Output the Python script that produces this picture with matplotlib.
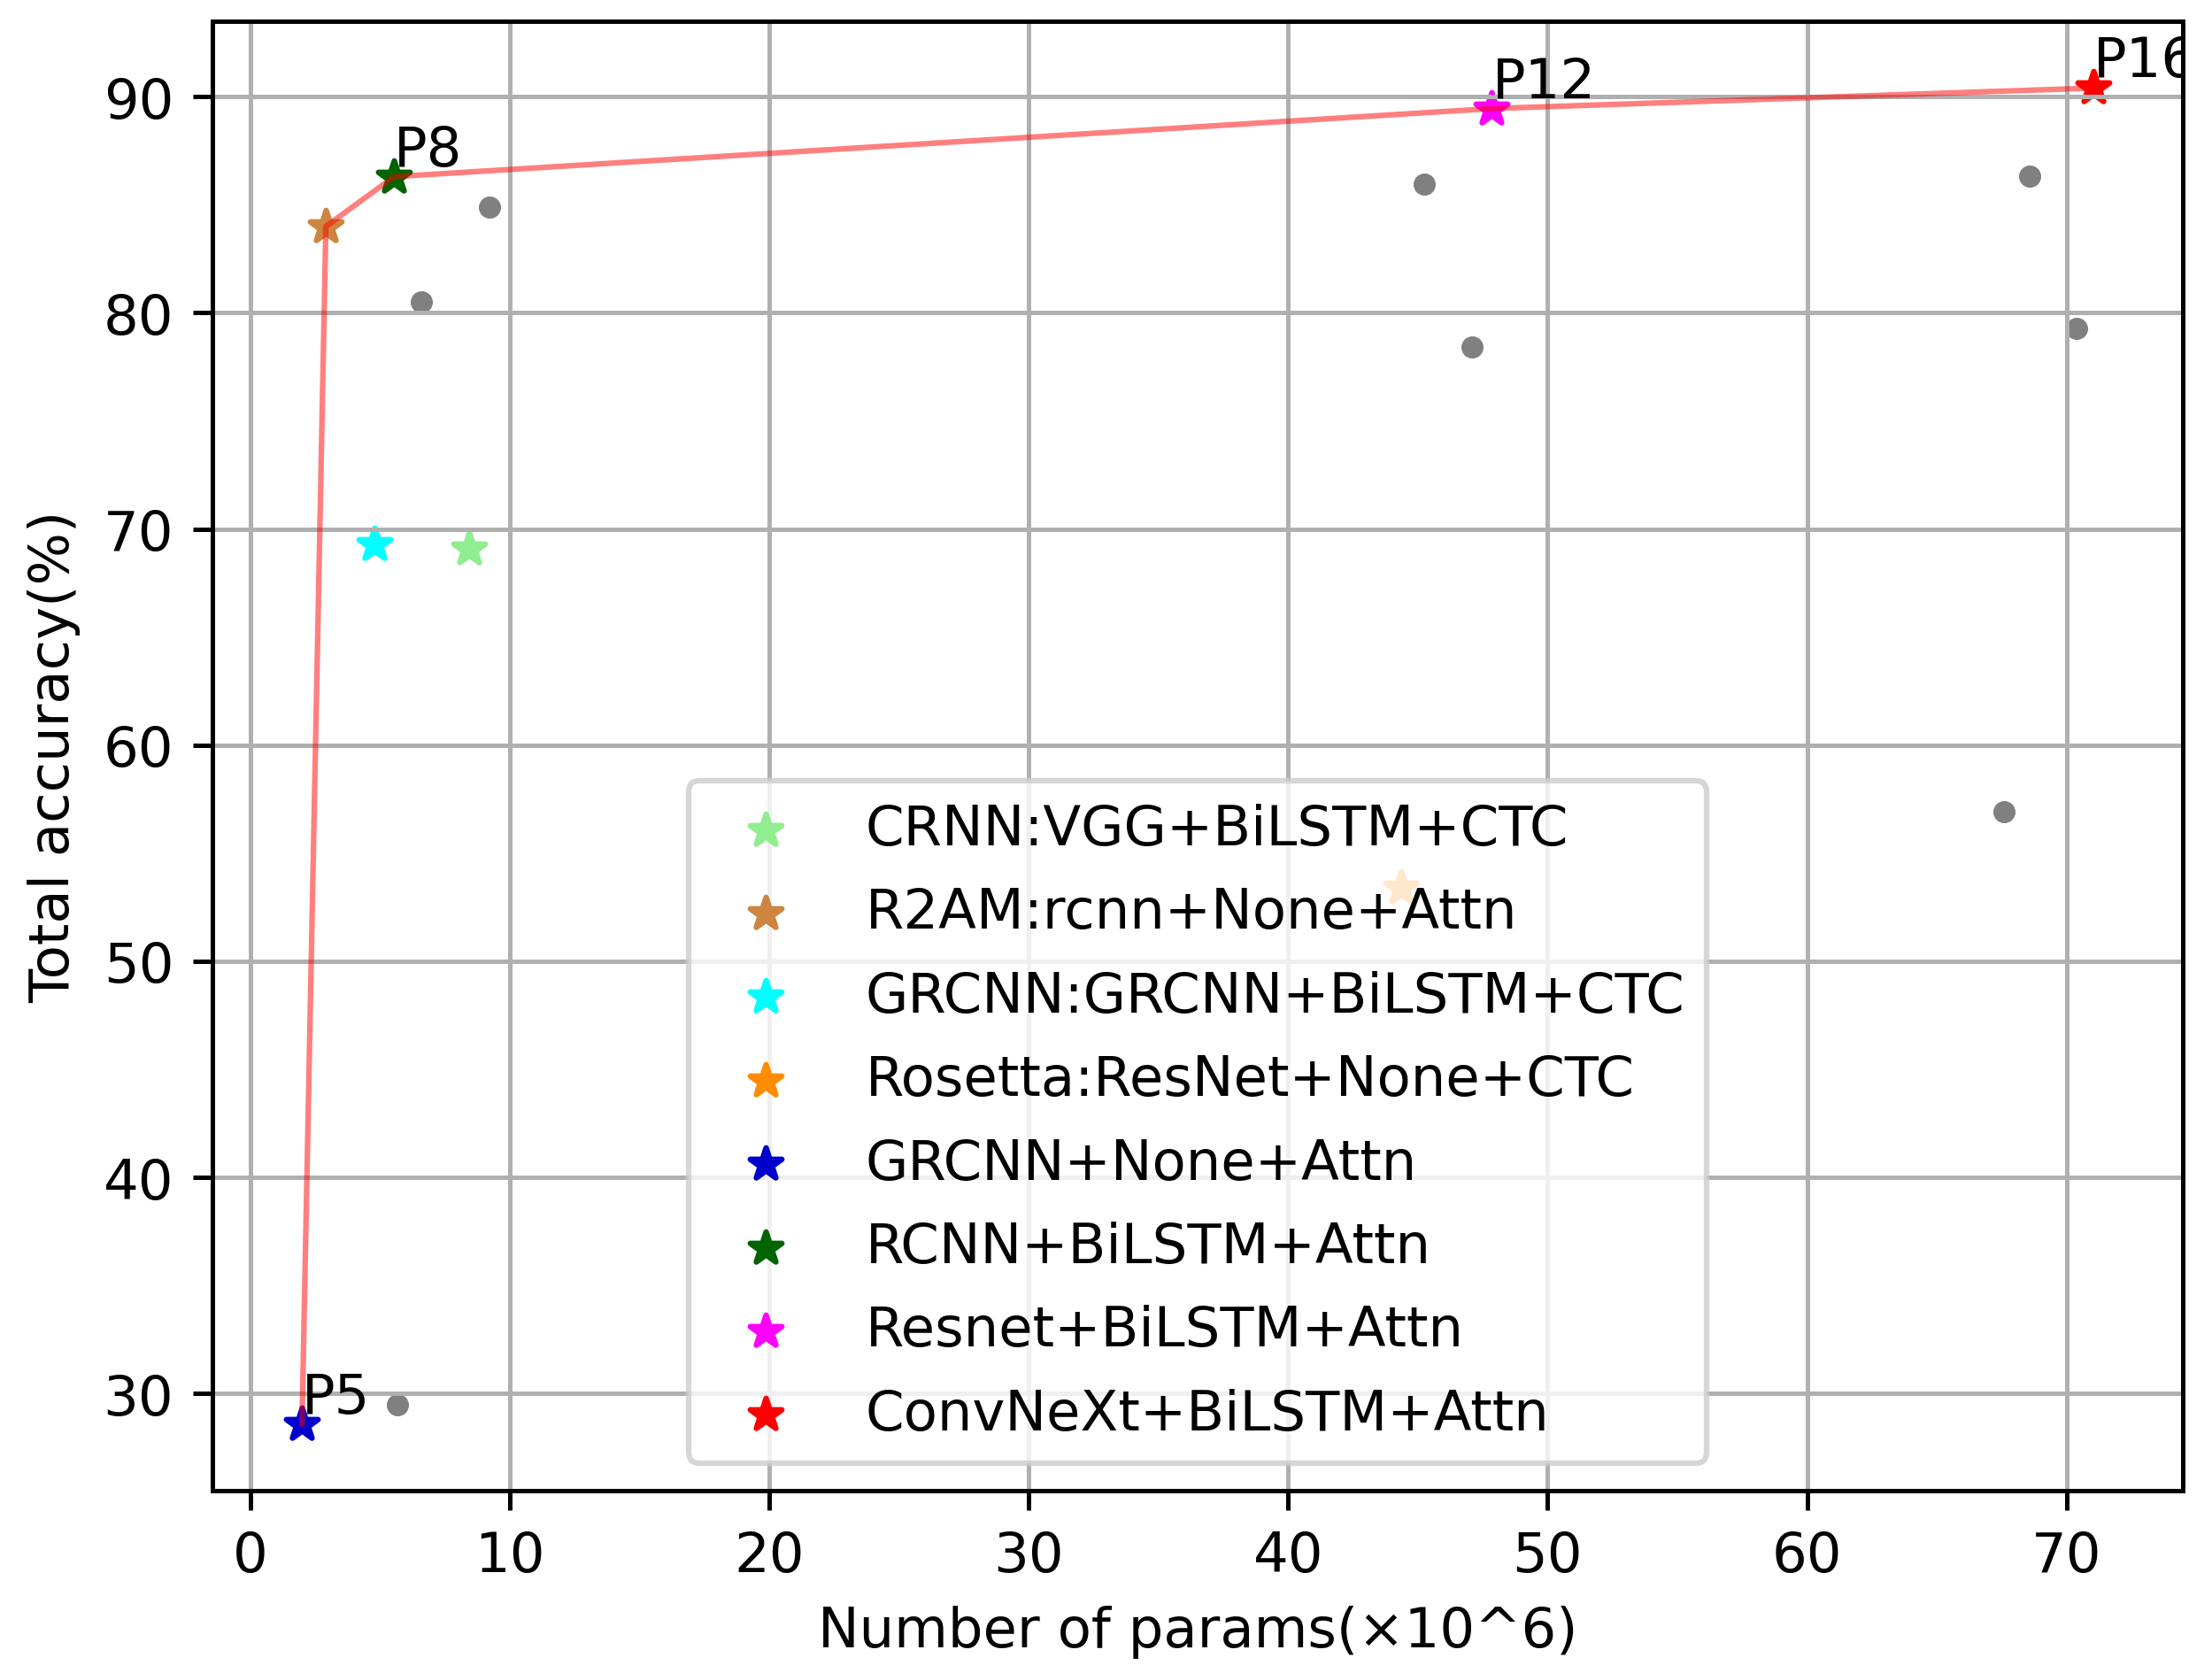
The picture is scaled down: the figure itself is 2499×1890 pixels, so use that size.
import matplotlib
matplotlib.use("Agg")
import matplotlib.pyplot as plt

# models shown as coloured stars (one legend entry each)
model_names = ['CRNN:VGG+BiLSTM+CTC', 'R2AM:rcnn+None+Attn', 'GRCNN:GRCNN+BiLSTM+CTC',
               'Rosetta:ResNet+None+CTC', 'GRCNN+None+Attn', 'RCNN+BiLSTM+Attn',
               'Resnet+BiLSTM+Attn', 'ConvNeXt+BiLSTM+Attn']
model_params = [8.43, 2.91, 4.77, 44.35, 1.99, 5.54, 47.85, 71.03]
model_acc = [69.1, 84.0, 69.3, 53.4, 28.6, 86.3, 89.45, 90.4]
model_colors = ['lightgreen', 'peru', 'cyan', 'darkorange', 'mediumblue',
                'darkgreen', 'magenta', 'red']

# remaining combinations (grey dots)
other_params = [5.68, 6.6, 9.23, 45.23, 47.08, 67.6, 68.57, 70.39]
other_acc = [29.5, 80.49, 84.9, 85.95, 78.4, 56.9, 86.33, 79.3]

# pareto front: indices into the model lists
front_idx = [4, 1, 5, 6, 7]
front_labels = {4: 'P5', 5: 'P8', 6: 'P12', 7: 'P16'}

W, H, DPI = 2499, 1891, 450
fig = plt.figure(figsize=(W / DPI, H / DPI), dpi=DPI)
ax = fig.add_axes([240 / W, 1 - 1685 / H, (2466 - 240) / W, (1685 - 25) / H])

for x, y, name, c in zip(model_params, model_acc, model_names, model_colors):
    ax.scatter(x, y, marker='*', color=c, label=name)

ax.scatter(other_params, other_acc, s=9, color='grey')

front_x = [model_params[i] for i in front_idx]
front_y = [model_acc[i] for i in front_idx]
ax.plot(front_x, front_y, color='red', alpha=0.5, linewidth=1)

for i, lab in front_labels.items():
    ax.text(model_params[i], model_acc[i], lab, va='bottom', clip_on=True)

ax.set_xlabel('Number of params(×10^6)')
ax.set_ylabel('Total accuracy(%)')
ax.grid(True)
ax.legend(loc='lower center', labelspacing=0.55)

fig.savefig('out.png', dpi=DPI)
